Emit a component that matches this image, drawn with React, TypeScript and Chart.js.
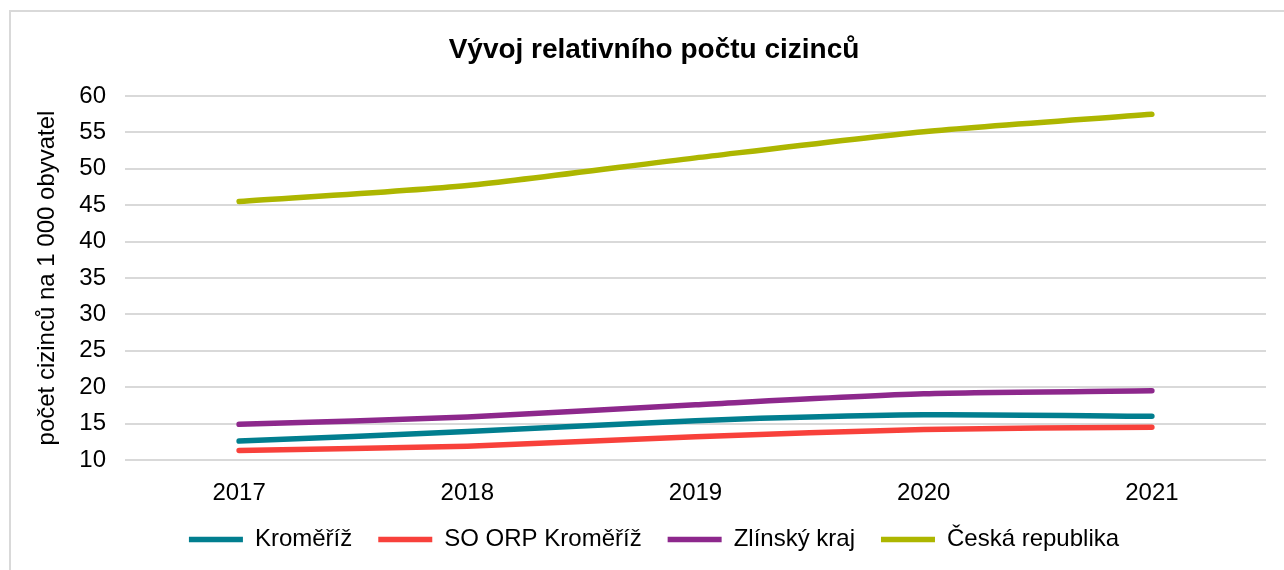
import React, { useEffect, useRef } from "react";
import { Chart, registerables } from "chart.js";

Chart.register(...registerables);

const years = ["2017", "2018", "2019", "2020", "2021"];
const kromeriz = [12.6, 13.9, 15.4, 16.2, 16.0];
const soOrpKromeriz = [11.3, 11.9, 13.2, 14.2, 14.5];
const zlinskyKraj = [14.9, 15.9, 17.6, 19.1, 19.5];
const ceskaRepublika = [45.5, 47.7, 51.5, 55.1, 57.5];

const seriesNames = ["Kroměříž", "SO ORP Kroměříž", "Zlínský kraj", "Česká republika"];
const seriesColors = ["#017E8F", "#F8413B", "#8D288C", "#ADB600"];

const chartTitle = "Vývoj relativního počtu cizinců";
const yAxisTitle = "počet cizinců na 1 000 obyvatel";

const FONT = "Arial, 'Liberation Sans', sans-serif";

export default function App() {
  const canvasRef = useRef<HTMLCanvasElement | null>(null);

  useEffect(() => {
    if (!canvasRef.current) return;
    const values = [kromeriz, soOrpKromeriz, zlinskyKraj, ceskaRepublika];
    const chart = new Chart(canvasRef.current, {
      type: "line",
      data: {
        labels: years,
        datasets: values.map((v, i) => ({
          label: seriesNames[i],
          data: v,
          borderColor: seriesColors[i],
          backgroundColor: seriesColors[i],
          borderWidth: 5.5,
          borderCapStyle: "round" as const,
          borderJoinStyle: "round" as const,
          pointRadius: 0,
          pointHoverRadius: 0,
          pointStyle: "line" as const,
          tension: 0.25,
          fill: false,
        })),
      },
      options: {
        responsive: false,
        animation: false,
        maintainAspectRatio: false,
        layout: { padding: { left: 32, right: 18, top: 0, bottom: 8.5 } },
        plugins: {
          title: {
            display: true,
            text: chartTitle,
            color: "#000",
            font: { family: FONT, size: 28, weight: "bold" },
            padding: { top: 23, bottom: 29.4 },
          },
          legend: {
            display: true,
            position: "bottom",
            labels: {
              color: "#000",
              font: { family: FONT, size: 24 },
              usePointStyle: true,
              pointStyleWidth: 54,
              padding: 26,
            },
          },
          tooltip: { enabled: false },
        },
        scales: {
          x: {
            offset: true,
            grid: { display: false, drawTicks: false },
            border: { display: false },
            ticks: {
              color: "#000",
              font: { family: FONT, size: 24 },
              padding: 19,
              maxRotation: 0,
            },
            afterFit: (scale: any) => {
              scale.height = 41.5;
            },
          },
          y: {
            min: 10,
            max: 60,
            grid: { color: "#d9d9d9", lineWidth: 2, drawTicks: false },
            border: { display: false },
            ticks: {
              stepSize: 5,
              color: "#000",
              font: { family: FONT, size: 24 },
              padding: 19,
            },
            title: {
              display: true,
              text: yAxisTitle,
              color: "#000",
              font: { family: FONT, size: 24 },
              padding: { top: -9, bottom: 0 },
            },
            afterFit: (scale: any) => {
              scale.width = 83;
            },
          },
        },
      },
    });
    return () => chart.destroy();
  }, []);

  return (
    <div
      style={{
        position: "absolute",
        left: 0,
        top: 0,
        width: 1284,
        height: 570,
        overflow: "hidden",
        background: "#fff",
      }}
    >
      <div
        style={{
          position: "absolute",
          left: 9,
          top: 10,
          width: 1300,
          height: 600,
          border: "2px solid #d9d9d9",
          boxSizing: "border-box",
        }}
      />
      <canvas
        ref={canvasRef}
        width={1274}
        height={560}
        style={{ position: "absolute", left: 10, top: 10, width: 1274, height: 560 }}
      />
    </div>
  );
}
